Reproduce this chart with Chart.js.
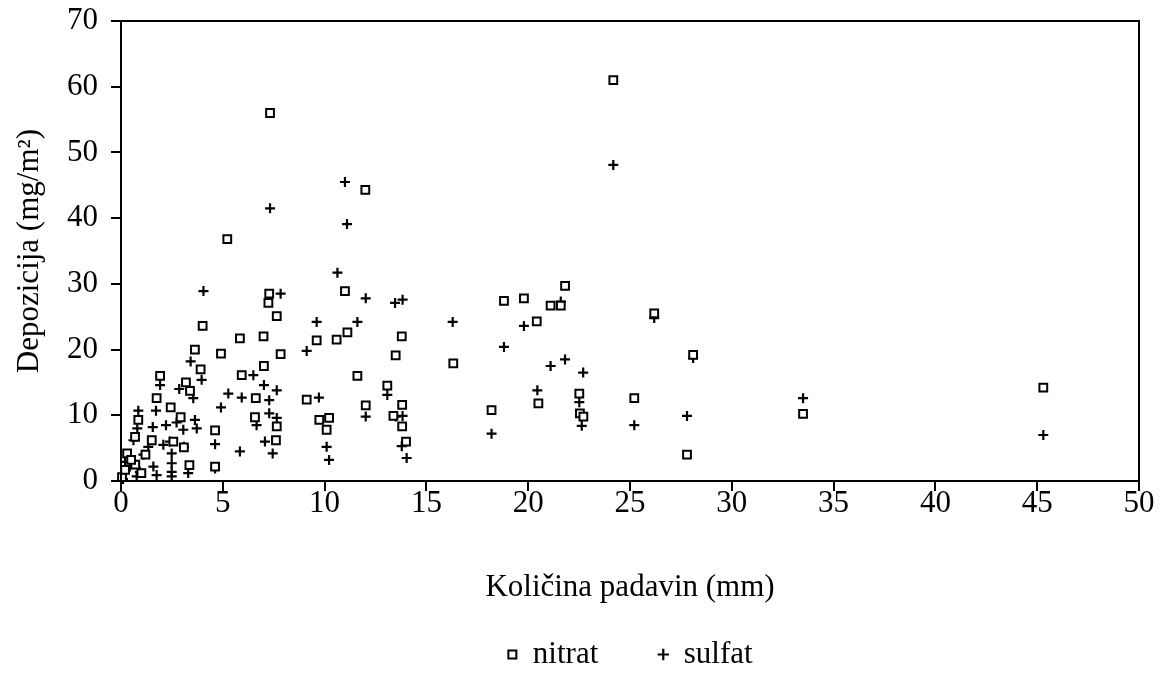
<!DOCTYPE html>
<html>
<head>
<meta charset="utf-8">
<script src="https://cdn.jsdelivr.net/npm/chart.js@4.4.1/dist/chart.umd.min.js"></script>
<style>
  html, body { margin: 0; padding: 0; background: #fff; overflow: hidden; }
  #wrap { width: 1164px; height: 673px; overflow: hidden; }
</style>
</head>
<body>
<div id="wrap"><canvas id="chart" width="1164" height="690"></canvas></div>
<script>
// ── data ──
const nitratX = [24.18, 7.32, 12.0, 5.22, 11.0, 7.28, 7.24, 7.65, 4.01, 5.84, 7.0, 3.63, 4.91, 7.84, 3.91, 5.93, 7.02, 1.92, 3.19, 3.39,
    1.75, 2.44, 0.85, 2.93, 0.69, 1.51, 2.57, 3.09, 3.36, 4.62, 4.62, 6.62, 6.58, 7.65, 7.61, 9.61, 10.59, 11.12, 13.79, 13.49,
    16.32, 11.61, 9.12, 13.08, 12.02, 13.81, 13.38, 13.81, 14.0, 9.74, 10.22, 10.1, 21.81, 18.81, 19.79, 21.1, 21.6, 20.42, 20.5, 22.51,
    22.54, 22.71, 18.2, 25.21, 26.19, 28.1, 27.8, 33.5, 45.3, 0.3, 1.2, 0.7, 1.0, 0.05, 0.2, 0.5];
const nitratY = [61.0, 56.0, 44.3, 36.8, 28.9, 28.5, 27.1, 25.1, 23.6, 21.7, 22.0, 20.0, 19.4, 19.3, 17.0, 16.1, 17.5, 16.0, 15.0, 13.7,
    12.6, 11.2, 9.3, 9.7, 6.7, 6.2, 6.0, 5.1, 2.4, 7.7, 2.2, 12.6, 9.7, 8.3, 6.2, 21.4, 21.5, 22.6, 22.0, 19.1,
    17.9, 16.0, 12.4, 14.5, 11.5, 11.6, 9.9, 8.3, 6.0, 9.3, 9.6, 7.8, 29.7, 27.4, 27.8, 26.7, 26.7, 24.3, 11.8, 13.3,
    10.3, 9.8, 10.8, 12.6, 25.5, 19.2, 4.0, 10.2, 14.2, 4.2, 4.0, 2.5, 1.2, 0.6, 1.7, 3.2];

const sulfatX = [24.18, 11.0, 11.1, 7.32, 10.63, 4.05, 7.84, 12.02, 13.46, 13.83, 9.61, 11.61, 16.29, 9.12, 19.79, 21.6, 18.81, 21.1, 21.81, 22.7,
    20.45, 22.51, 22.63, 18.2, 25.21, 26.19, 28.1, 27.8, 33.5, 45.3, 9.72, 13.08, 12.02, 13.83, 13.5, 13.79, 14.03, 10.1, 10.22, 3.42,
    3.96, 6.5, 3.55, 5.27, 5.93, 7.02, 7.65, 7.28, 4.91, 7.28, 7.65, 6.66, 7.07, 7.45, 5.84, 4.62, 1.92, 2.86, 1.72, 0.85,
    0.8, 1.56, 2.21, 2.73, 3.63, 3.72, 0.61, 1.34, 2.08, 2.41, 3.09, 2.49, 2.49, 2.49, 2.49, 3.3, 0.2, 0.44, 1.1, 0.93,
    1.59, 1.75, 0.77, 0.1, 4.62, 3.06];
const sulfatY = [48.1, 45.5, 39.1, 41.5, 31.7, 28.9, 28.5, 27.8, 27.1, 27.6, 24.2, 24.2, 24.2, 19.8, 23.6, 27.3, 20.4, 17.5, 18.5, 16.5,
    13.8, 12.0, 8.4, 7.2, 8.5, 24.8, 18.7, 9.9, 12.6, 7.0, 12.7, 13.1, 9.8, 9.9, 9.8, 5.3, 3.5, 5.2, 3.2, 18.2,
    15.4, 16.1, 12.6, 13.3, 12.7, 14.6, 13.8, 12.3, 11.2, 10.3, 9.6, 8.5, 6.0, 4.2, 4.5, 5.6, 14.6, 14.0, 10.7, 10.7,
    8.0, 8.2, 8.5, 8.9, 9.3, 8.0, 6.2, 5.2, 5.5, 6.0, 5.2, 4.2, 2.7, 1.4, 0.7, 1.2, 2.9, 2.2, 4.0, 1.4,
    2.2, 0.9, 0.7, 0.3, 1.9, 7.8];

const xTicks = [0, 5, 10, 15, 20, 25, 30, 35, 40, 45, 50];
const yTicks = [0, 10, 20, 30, 40, 50, 60, 70];

const toPoints = (xs, ys) => xs.map((x, i) => ({ x, y: ys[i] }));

Chart.defaults.font.family = "'Liberation Serif', 'Times New Roman', serif";
Chart.defaults.font.size = 31;
Chart.defaults.color = '#000';

// box round the plot area
const frame = {
    id: 'frame',
    afterDatasetsDraw(chart) {
        const { ctx, chartArea: a } = chart;
        ctx.save();
        ctx.strokeStyle = '#000';
        ctx.lineWidth = 2;
        ctx.strokeRect(a.left, a.top, a.right - a.left, a.bottom - a.top);
        ctx.restore();
    },
};

new Chart(document.getElementById('chart'), {
    type: 'scatter',
    data: {
        datasets: [
            {
                label: 'nitrat',
                data: toPoints(nitratX, nitratY),
                pointStyle: 'rect',
                pointRadius: 5.5,
                borderWidth: 2,
                borderColor: '#000',
                backgroundColor: '#fff',
                clip: false,
            },
            {
                label: 'sulfat',
                data: toPoints(sulfatX, sulfatY),
                pointStyle: 'cross',
                pointRadius: 5,
                borderWidth: 2.2,
                borderColor: '#000',
                backgroundColor: '#000',
                clip: false,
            },
        ],
    },
    options: {
        responsive: false,
        animation: false,
        events: [],
        layout: { padding: { top: 21, right: 25, bottom: 10, left: 0 } },
        plugins: {
            tooltip: { enabled: false },
            legend: {
                position: 'bottom',
                fullSize: false,
                labels: {
                    usePointStyle: true,
                    boxWidth: 10,
                    boxHeight: 8,
                    padding: 60,
                    color: '#000',
                },
            },
        },
        scales: {
            x: {
                type: 'linear',
                min: 0,
                max: 50,
                afterBuildTicks: s => { s.ticks = xTicks.map(v => ({ value: v })); },
                afterFit: s => { s.height = 98; },
                grid: { drawOnChartArea: false, drawTicks: true, tickLength: 10, color: '#000', lineWidth: 2 },
                border: { display: true, color: '#000', width: 2 },
                ticks: { padding: -6, maxRotation: 0, color: '#000' },
                title: { display: true, text: 'Količina padavin (mm)', color: '#000', padding: { top: 0, bottom: -27 } },
            },
            y: {
                min: 0,
                max: 70,
                afterBuildTicks: s => { s.ticks = yTicks.map(v => ({ value: v })); },
                afterFit: s => { s.width = 121; s.paddingTop = 0; s.paddingBottom = 0; },
                grid: { drawOnChartArea: false, drawTicks: true, tickLength: 10, color: '#000', lineWidth: 2 },
                border: { display: true, color: '#000', width: 2 },
                ticks: { padding: 13, color: '#000' },
                title: { display: true, text: 'Depozicija (mg/m²)', color: '#000', padding: { top: 11, bottom: 0 } },
            },
        },
    },
    plugins: [frame],
});
</script>
</body>
</html>
